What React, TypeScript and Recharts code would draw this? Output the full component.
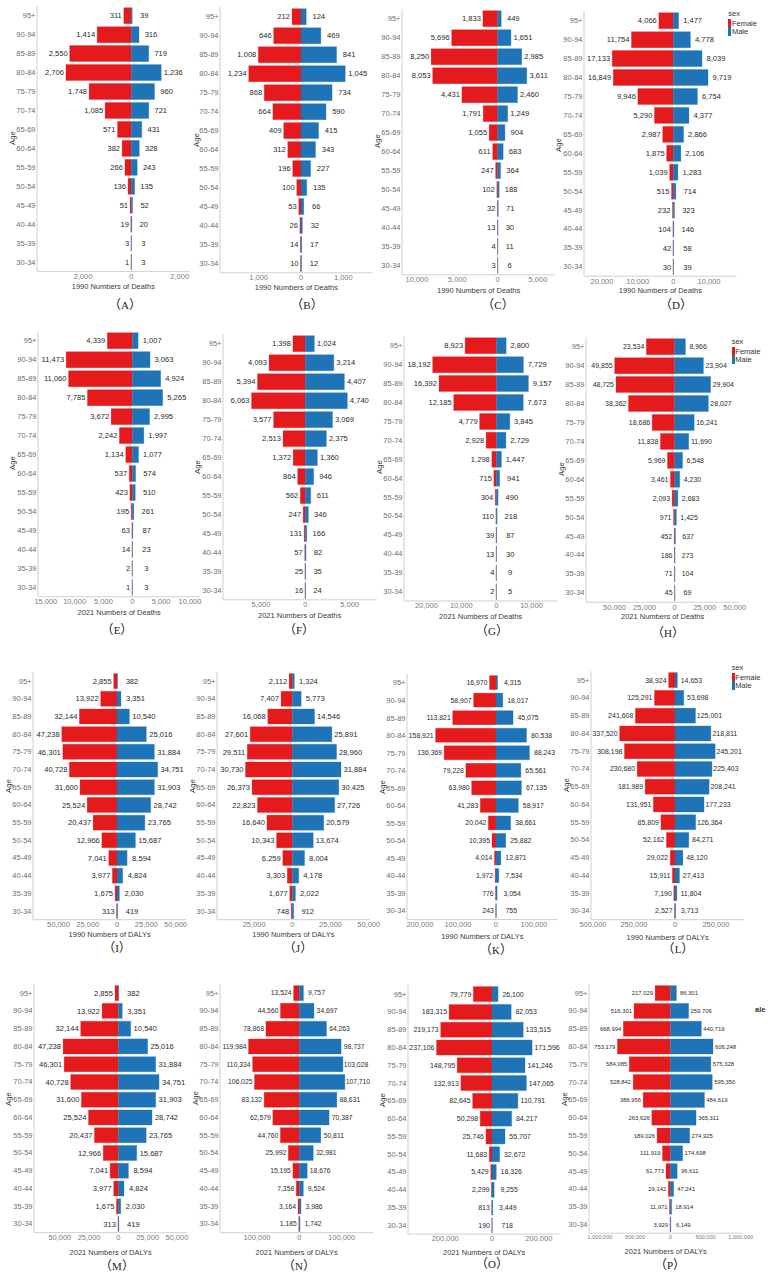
import { BarChart, Bar, XAxis, YAxis, LabelList } from "recharts";

const ages = ["95+", "90-94", "85-89", "80-84", "75-79", "70-74", "65-69", "60-64", "55-59", "50-54", "45-49", "40-44", "35-39", "30-34"];

const femaleA = [311, 1414, 2550, 2706, 1748, 1085, 571, 382, 266, 136, 51, 19, 3, 1];
const maleA = [39, 316, 719, 1236, 960, 721, 431, 328, 243, 135, 52, 20, 3, 3];
const femaleB = [212, 646, 1008, 1234, 868, 664, 409, 312, 196, 100, 53, 26, 14, 10];
const maleB = [124, 469, 841, 1045, 734, 590, 415, 343, 227, 135, 66, 32, 17, 12];
const femaleC = [1833, 5696, 8250, 8053, 4431, 1791, 1055, 611, 247, 102, 32, 13, 4, 3];
const maleC = [449, 1651, 2985, 3611, 2460, 1249, 904, 683, 364, 188, 71, 30, 11, 6];
const femaleD = [4066, 11754, 17133, 16849, 9946, 5290, 2987, 1875, 1039, 515, 232, 104, 42, 30];
const maleD = [1477, 4778, 8039, 9719, 6754, 4377, 2866, 2106, 1283, 714, 323, 146, 58, 39];
const femaleE = [4339, 11473, 11060, 7785, 3672, 2242, 1134, 537, 423, 195, 63, 14, 2, 1];
const maleE = [1007, 3063, 4924, 5265, 2995, 1997, 1077, 574, 510, 261, 87, 23, 3, 3];
const femaleF = [1398, 4093, 5394, 6063, 3577, 2513, 1372, 864, 562, 247, 131, 57, 25, 16];
const maleF = [1024, 3214, 4407, 4740, 3069, 2375, 1360, 946, 611, 346, 166, 82, 35, 24];
const femaleG = [8923, 18192, 16392, 12185, 4779, 2928, 1298, 715, 304, 110, 39, 13, 4, 2];
const maleG = [2800, 7729, 9157, 7673, 3845, 2729, 1447, 941, 490, 218, 87, 30, 9, 5];
const femaleH = [23534, 49855, 48725, 38362, 18686, 11838, 5969, 3461, 2093, 971, 452, 186, 71, 45];
const maleH = [8966, 23904, 29904, 28027, 16241, 11690, 6548, 4230, 2683, 1425, 637, 273, 104, 69];
const femaleI = [2855, 13922, 32144, 47238, 46301, 40728, 31600, 25524, 20437, 12966, 7041, 3977, 1675, 313];
const maleI = [382, 3351, 10540, 25016, 31884, 34751, 31903, 28742, 23765, 15687, 8594, 4824, 2030, 419];
const femaleJ = [2112, 7407, 16068, 27601, 29511, 30730, 26373, 22823, 16640, 10343, 6259, 3303, 1677, 748];
const maleJ = [1324, 5773, 14546, 25891, 28960, 31884, 30425, 27726, 20579, 13674, 8004, 4178, 2022, 912];
const femaleK = [16970, 58907, 113821, 158921, 136369, 79228, 63980, 41283, 20042, 10395, 4014, 1972, 776, 243];
const maleK = [4315, 18017, 45075, 80538, 88243, 65561, 67135, 58917, 38661, 25882, 12871, 7534, 3054, 755];
const femaleL = [38924, 125291, 241608, 337520, 308198, 230680, 181989, 131951, 85809, 52162, 29022, 15911, 7190, 2527];
const maleL = [14653, 53698, 125001, 218811, 245201, 225403, 208241, 177233, 126364, 84271, 48120, 27413, 11804, 3713];
const femaleN = [13524, 44560, 78868, 119984, 110334, 106025, 83132, 62579, 44760, 25992, 15195, 7358, 3164, 1185];
const maleN = [9757, 34697, 64263, 98737, 103028, 107710, 88631, 70387, 50811, 32981, 18676, 9524, 3986, 1742];
const femaleO = [79779, 183315, 219173, 237106, 148795, 132913, 82645, 50298, 25746, 11683, 5429, 2299, 813, 190];
const maleO = [26100, 82053, 133515, 171596, 141246, 147065, 110791, 84217, 55707, 32672, 18326, 9255, 3449, 718];
const femaleP = [217029, 516301, 668994, 753179, 584085, 528842, 386956, 263626, 189026, 111919, 61773, 29142, 11971, 3929];
const maleP = [86301, 259706, 440719, 606248, 575328, 595350, 484619, 365311, 274925, 174698, 96611, 47241, 18914, 6149];

const RED = "#E41A1C";
const BLUE = "#1F73B7";
const FONT = '"Liberation Sans", Arial, sans-serif';
const Y_WIDTH = 34;
const X_HEIGHT = 30;
const RIGHT_PAD = 24;

const fmt = (v: number) => Math.abs(v).toLocaleString("en-US");

// left/right/top/bottom = plot box on the page, age/cap = centres of the "Age" and "(A)" texts
const panels = [
  { cap: "A", female: femaleA, male: maleA, title: "1990 Numbers of Deaths", domain: [-3903, 2414], ticks: [-2000, 0, 2000], left: 37.3, right: 190, top: 6.2, bottom: 271.6, age: [13.3, 138], capAt: [125, 304], gap: 12, titleDy: 14.3 },
  { cap: "B", female: femaleB, male: maleB, title: "1990 Numbers of Deaths", domain: [-1913, 1693], ticks: [-1000, 0, 1000], left: 220, right: 372.7, top: 7.2, bottom: 273, age: [197, 140], capAt: [307, 304], gap: 12.5, titleDy: 13.7 },
  { cap: "C", female: femaleC, male: maleC, title: "1990 Numbers of Deaths", domain: [-11860, 7149], ticks: [-10000, -5000, 0, 5000], left: 401.7, right: 555, top: 8.8, bottom: 274.6, age: [378, 141], capAt: [498, 304], gap: 12, titleDy: 14.3 },
  { cap: "D", female: femaleD, male: maleD, title: "1990 Numbers of Deaths", domain: [-25047, 17757], ticks: [-20000, -10000, 0, 10000], left: 584, right: 736.7, top: 11.2, bottom: 276.4, age: [559, 145], capAt: [676, 304], gap: 14, titleDy: 13.7 },
  { cap: "E", female: femaleE, male: maleE, title: "2021 Numbers of Deaths", domain: [-16358, 11790], ticks: [-15000, -10000, -5000, 0, 5000, 10000], left: 37.7, right: 200, top: 331.2, bottom: 596.9, age: [13.3, 463], capAt: [117, 629], gap: 14, titleDy: 14.3 },
  { cap: "F", female: femaleF, male: maleF, title: "2021 Numbers of Deaths", domain: [-9286, 8008], ticks: [-5000, 0, 5000], left: 222.7, right: 376, top: 333.8, bottom: 599.6, age: [198, 467], capAt: [299, 629], gap: 12, titleDy: 15 },
  { cap: "G", female: femaleG, male: maleG, title: "2021 Numbers of Deaths", domain: [-26381, 17429], ticks: [-20000, -10000, 0, 10000], left: 404.3, right: 557.7, top: 335.5, bottom: 600.5, age: [380, 467], capAt: [492, 630], gap: 13.7, titleDy: 14.7 },
  { cap: "H", female: femaleH, male: maleH, title: "2021 Numbers of Deaths", domain: [-73684, 53740], ticks: [-50000, -25000, 0, 25000, 50000], left: 585.7, right: 739, top: 337.2, bottom: 602.4, age: [562, 469], capAt: [668, 632], gap: 12.7, titleDy: 13.3 },
  { cap: "I", female: femaleI, male: maleI, title: "1990 Numbers of DALYs", domain: [-71795, 59259], ticks: [-50000, -25000, 0, 25000, 50000], left: 33.3, right: 186.7, top: 671.5, bottom: 919.2, age: [9, 786], capAt: [117, 947], gap: 14.5, titleDy: 14 },
  { cap: "J", female: femaleJ, male: maleJ, title: "1990 Numbers of DALYs", domain: [-49345, 50655], ticks: [-25000, 0, 25000, 50000], left: 217.3, right: 370, top: 671.5, bottom: 919.2, age: [193, 786], capAt: [298, 947], gap: 14, titleDy: 14 },
  { cap: "K", female: femaleK, male: maleK, title: "1990 Numbers of DALYs", domain: [-234211, 162281], ticks: [-200000, -100000, 0, 100000], left: 406.7, right: 557.3, top: 673.6, bottom: 919.2, age: [383, 787], capAt: [496, 949], gap: 15, titleDy: 15.7 },
  { cap: "L", female: femaleL, male: maleL, title: "1990 Numbers of DALYs", domain: [-512195, 422764], ticks: [-500000, -250000, 0, 250000], left: 590.7, right: 744, top: 670.8, bottom: 919.5, age: [567, 785], capAt: [678, 948], gap: 14, titleDy: 16.7 },
  { cap: "M", female: femaleI, male: maleI, title: "2021 Numbers of DALYs", domain: [-72080, 58974], ticks: [-50000, -25000, 0, 25000, 50000], left: 34.3, right: 187.7, top: 984.1, bottom: 1232.8, age: [9, 1099], capAt: [117, 1265], gap: 14.5, titleDy: 18.3 },
  { cap: "N", female: femaleN, male: maleN, title: "2021 Numbers of DALYs", domain: [-187402, 174803], ticks: [-100000, 0, 100000], left: 220, right: 373.3, top: 984.1, bottom: 1232.8, age: [196, 1098], capAt: [299, 1265], gap: 13, titleDy: 18.3 },
  { cap: "O", female: femaleO, male: maleO, title: "2021 Numbers of DALYs", domain: [-358974, 292023], ticks: [-200000, 0, 200000], left: 407.7, right: 560, top: 984.5, bottom: 1233.6, age: [383, 1100], capAt: [492, 1263], gap: 15, titleDy: 17.3 },
  { cap: "P", female: femaleP, male: maleP, title: "2021 Numbers of DALYs", domain: [-1156398, 1023697], ticks: [-1000000, -500000, 0, 500000, 1000000], left: 589.3, right: 742.7, top: 984.2, bottom: 1233.4, age: [565, 1099], capAt: [670, 1264], gap: 12.5, titleDy: 17.7, labelSize: 5.9, tickSize: 5.6 },
];

const labelSizes: Record<string, number> = { H: 7, K: 6.9, L: 7, N: 6.8, O: 7 };

function Panel({ p }: { p: any }) {
  const data = ages.map((age, i) => ({ age, female: -p.female[i], male: p.male[i] }));
  const plotW = p.right - p.left;
  const plotH = p.bottom - p.top;
  const labelSize = p.labelSize ?? labelSizes[p.cap] ?? 7.6;

  const femaleLabel = ({ x, y, width, height, value }: any) => (
    <text
      x={Math.min(x, x + width) - 2}
      y={y + height / 2}
      dy="0.35em"
      textAnchor="end"
      fontSize={labelSize}
      fontFamily={FONT}
      fill="#2b2b2b"
    >
      {fmt(value)}
    </text>
  );

  const maleLabel = ({ x, y, width, height, value }: any) => (
    <text
      x={Math.max(x, x + width) + p.gap}
      y={y + height / 2}
      dy="0.35em"
      textAnchor="middle"
      fontSize={labelSize}
      fontFamily={FONT}
      fill="#2b2b2b"
    >
      {fmt(value)}
    </text>
  );

  return (
    <>
      <div style={{ position: "absolute", left: p.left - Y_WIDTH, top: p.top }}>
        <BarChart
          width={plotW + Y_WIDTH + RIGHT_PAD}
          height={plotH + X_HEIGHT}
          data={data}
          layout="vertical"
          stackOffset="sign"
          barCategoryGap="9%"
          margin={{ top: 0, right: RIGHT_PAD, bottom: 0, left: 0 }}
        >
          <XAxis
            type="number"
            domain={p.domain}
            ticks={p.ticks}
            interval={0}
            height={X_HEIGHT}
            tickLine={false}
            tickSize={0}
            tickMargin={2}
            tickFormatter={fmt}
            tick={{ fontSize: p.tickSize ?? 7.5, fill: "#7a7a7a", fontFamily: FONT }}
            axisLine={{ stroke: "#cfcfcf", strokeWidth: 1 }}
            label={{
              value: p.title,
              position: "insideBottom",
              offset: X_HEIGHT - p.titleDy - 3.6,
              fontSize: 7.5,
              fill: "#3a3a3a",
              fontFamily: FONT,
            }}
          />
          <YAxis
            type="category"
            dataKey="age"
            width={Y_WIDTH}
            interval={0}
            tickLine={false}
            tickSize={0}
            tickMargin={1.5}
            tick={{ fontSize: 7.5, fill: "#6e6e6e", fontFamily: FONT }}
            axisLine={{ stroke: "#cfcfcf", strokeWidth: 1 }}
          />
          <Bar dataKey="female" stackId="a" fill={RED} stroke={RED} strokeWidth={0.3} isAnimationActive={false}>
            <LabelList dataKey="female" content={femaleLabel} />
          </Bar>
          <Bar dataKey="male" stackId="a" fill={BLUE} stroke={BLUE} strokeWidth={0.3} isAnimationActive={false}>
            <LabelList dataKey="male" content={maleLabel} />
          </Bar>
        </BarChart>
      </div>
      <div
        style={{
          position: "absolute",
          left: p.age[0] - 15,
          top: p.age[1] - 6,
          width: 30,
          height: 12,
          lineHeight: "12px",
          textAlign: "center",
          transform: "rotate(-90deg)",
          fontSize: 7.8,
          fontFamily: FONT,
          color: "#333",
        }}
      >
        Age
      </div>
      <div
        style={{
          position: "absolute",
          left: p.capAt[0] - 30,
          top: p.capAt[1] - 8,
          width: 60,
          height: 16,
          lineHeight: "16px",
          textAlign: "center",
          fontSize: 12.5,
          fontFamily: '"Noto Sans CJK SC", "Liberation Serif", serif',
          color: "#222",
        }}
      >
        （<span style={{ fontFamily: '"Liberation Serif", serif', fontSize: 11 }}>{p.cap}</span>）
      </div>
    </>
  );
}

function SexLegend({ x, y }: { x: number; y: number }) {
  const text = { position: "absolute", fontSize: 7.5, fontFamily: FONT, color: "#333", lineHeight: "9px", whiteSpace: "nowrap" } as const;
  return (
    <>
      <div style={{ ...text, left: x, top: y - 9.5 }}>sex</div>
      <div style={{ position: "absolute", left: x, top: y, width: 3, height: 8.7, background: RED }} />
      <div style={{ position: "absolute", left: x, top: y + 8.7, width: 3, height: 8.7, background: BLUE }} />
      <div style={{ ...text, left: x + 3.6, top: y }}>Female</div>
      <div style={{ ...text, left: x + 3.6, top: y + 8.7 }}>Male</div>
    </>
  );
}

export default function App() {
  return (
    <div style={{ position: "absolute", left: 0, top: 0, width: 770, height: 1280, background: "#fff", overflow: "hidden" }}>
      {panels.map((p) => (
        <Panel key={p.cap} p={p} />
      ))}
      <SexLegend x={728.3} y={18.5} />
      <SexLegend x={731.7} y={346.7} />
      <SexLegend x={731.7} y={672.7} />
      <div style={{ position: "absolute", left: 755, top: 1005, fontSize: 7.5, fontWeight: 700, fontFamily: FONT, color: "#333", lineHeight: "10px" }}>
        ale
      </div>
    </div>
  );
}
